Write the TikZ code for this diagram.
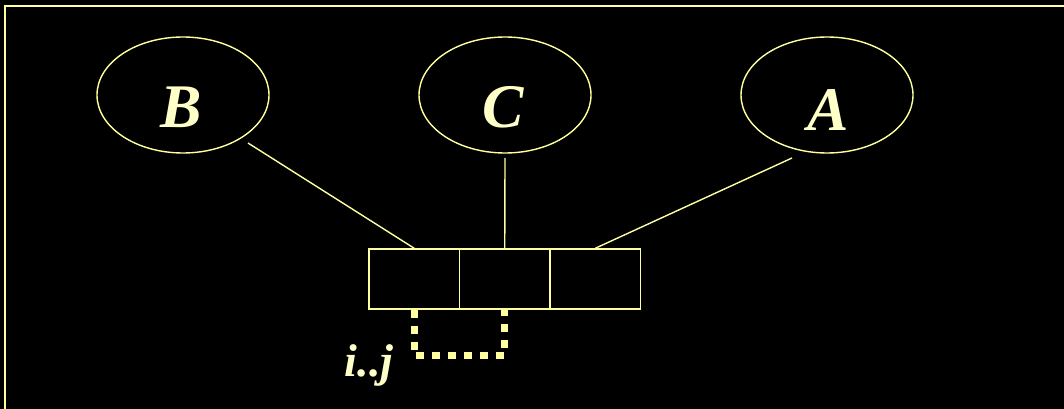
\documentclass[tikz,border=0pt]{standalone}
\usepackage{fontspec}
\setmainfont{Liberation Serif}
\usetikzlibrary{shapes.geometric}
\definecolor{ylw}{RGB}{255,255,160}
\definecolor{ytxt}{RGB}{255,255,200}
\begin{document}
\begin{tikzpicture}[x=1pt,y=-1pt,
  oval/.style={draw=ylw,line width=1.4pt,ellipse,minimum width=172pt,minimum height=116pt,inner sep=0pt},
  letter/.style={text=ytxt,font=\fontsize{62}{62}\selectfont\bfseries\itshape,inner sep=0pt},
  cell/.style={draw=ylw,line width=1.4pt,rectangle,minimum width=90.5pt,minimum height=60pt,inner sep=0pt},
  link/.style={draw=ylw,line width=1.4pt},
  idxrange/.style={draw=ylw,line width=7pt,dash pattern=on 8pt off 8pt}]
\fill[black] (0,0) rectangle (1064,409);
\useasboundingbox (0,0) rectangle (1064,409);
\draw[ylw,line width=2pt] (5,412) -- (5,6) -- (1066,6);
\node[oval] (eB) at (183,95) {};
\node[oval] (eC) at (505,95) {};
\node[oval] (eA) at (827,95) {};
\node[letter,anchor=base] (tB) at (181,127) {B};
\node[letter,anchor=base] (tC) at (503,127) {C};
\node[letter,anchor=base] (tA) at (828,130) {A};
\node[cell] (c1) at (414.25,279) {};
\node[cell] (c2) at (504.75,279) {};
\node[cell] (c3) at (595.25,279) {};
\coordinate (sB) at (248,143);
\coordinate (sC) at (505,158);
\coordinate (sA) at (792,158);
\draw[link] (sB) -- (c1.north);
\draw[link] (sC) -- (c2.north);
\draw[link] (sA) -- (c3.north);
\draw[idxrange] (c1.south) -- ++(0,46) -| (c2.south);
\node[text=ytxt,font=\fontsize{46}{46}\selectfont\bfseries\itshape,inner sep=0pt,anchor=base] (ij) at (369,376) {i..j};
\end{tikzpicture}
\end{document}
